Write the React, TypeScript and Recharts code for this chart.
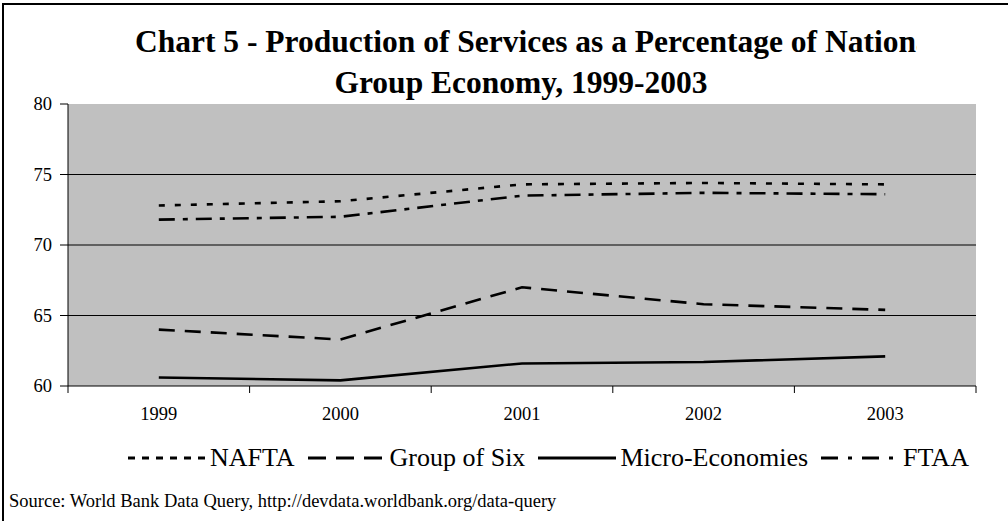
import React from "react"
import { LineChart, Line, XAxis, YAxis, CartesianGrid, Legend } from "recharts"

// years on the category axis
const years = ["1999", "2000", "2001", "2002", "2003"]

// services share of group GDP, %
const nafta = [72.8, 73.1, 74.3, 74.4, 74.3]
const groupOfSix = [64.0, 63.3, 67.0, 65.8, 65.4]
const microEconomies = [60.6, 60.4, 61.6, 61.7, 62.1]
const ftaa = [71.8, 72.0, 73.5, 73.7, 73.6]

const yTicks = [60, 65, 70, 75, 80]
const gridValues = [65, 70, 75]

const seriesNames = ["NAFTA", "Group of Six", "Micro-Economies", "FTAA"]

const data = years.map((year, i) => ({
  year,
  nafta: nafta[i],
  groupOfSix: groupOfSix[i],
  microEconomies: microEconomies[i],
  ftaa: ftaa[i],
}))

const W = 1008
const H = 521
const PLOT_LEFT = 68
const PLOT_RIGHT = 976
const PLOT_TOP = 104
const PLOT_BOTTOM = 386
const Y_AXIS_W = 60
const X_AXIS_H = 30
const BAND = (PLOT_RIGHT - PLOT_LEFT) / years.length

const SERIF = "'Liberation Serif', 'Times New Roman', serif"

// line patterns: plot dash / legend dash (legend swatches are drawn a bit larger)
const lineStyles: Record<string, { dash?: string; legendDash?: string }> = {
  NAFTA: { dash: "6 10", legendDash: "7 7" },
  "Group of Six": { dash: "16 10", legendDash: "18 10" },
  "Micro-Economies": {},
  FTAA: { dash: "16 8 5 8", legendDash: "17 10 4 10" },
}

function YearTick(props: any) {
  const { x, payload, index } = props
  const left = x - BAND / 2
  const right = x + BAND / 2
  return (
    <g>
      <line x1={left} y1={PLOT_BOTTOM} x2={left} y2={PLOT_BOTTOM + 7} stroke="#000" />
      {index === years.length - 1 && (
        <line x1={right} y1={PLOT_BOTTOM} x2={right} y2={PLOT_BOTTOM + 7} stroke="#000" />
      )}
      <text x={x} y={PLOT_BOTTOM + 34} textAnchor="middle" style={{ fontFamily: SERIF, fontSize: 18.5 }} fill="#000">
        {payload.value}
      </text>
    </g>
  )
}

function ValueTick(props: any) {
  const { x, y, payload } = props
  return (
    <text x={x} y={y} dy={6} textAnchor="end" style={{ fontFamily: SERIF, fontSize: 18.5 }} fill="#000">
      {payload.value}
    </text>
  )
}

function LegendRow() {
  return (
    <div style={{ display: "flex", alignItems: "center", paddingLeft: 128, height: 34, fontFamily: SERIF }}>
      {seriesNames.map((name) => {
        const st = lineStyles[name]
        return (
          <div key={name} style={{ display: "flex", alignItems: "center", marginRight: 13 }}>
            <svg width={78} height={10} style={{ marginRight: 4 }}>
              <line x1={0} y1={5} x2={78} y2={5} stroke="#000" strokeWidth={3} strokeDasharray={st.legendDash} />
            </svg>
            <span style={{ fontFamily: SERIF, fontSize: 26, color: "#000", lineHeight: "30px" }}>{name}</span>
          </div>
        )
      })}
    </div>
  )
}

export default function App() {
  return (
    <div style={{ position: "absolute", left: 0, top: 0, width: W, height: H, background: "#fff", overflow: "hidden" }}>
      {/* frame */}
      <div style={{ position: "absolute", left: 2, top: 3, width: W, height: H, borderLeft: "2px solid #000", borderTop: "2px solid #000" }} />

      <svg width={W} height={110} style={{ position: "absolute", left: 0, top: 0 }}>
        <defs>
          <clipPath id="titleClip">
            <rect x={0} y={0} width={917} height={110} />
          </clipPath>
        </defs>
        <g clipPath="url(#titleClip)" style={{ fontFamily: SERIF, fontWeight: "bold", fontSize: 31.5 }} fill="#000">
          <text x={135} y={52}>Chart 5 - Production of Services as a Percentage of National</text>
          <text x={521} y={93} textAnchor="middle">Group Economy, 1999-2003</text>
        </g>
      </svg>

      <div style={{ position: "absolute", left: 0, top: 0 }}>
        <LineChart
          width={W}
          height={H}
          data={data}
          margin={{
            top: PLOT_TOP,
            right: W - PLOT_RIGHT,
            bottom: H - PLOT_BOTTOM - X_AXIS_H,
            left: PLOT_LEFT - Y_AXIS_W,
          }}
        >
          <CartesianGrid vertical={false} horizontalValues={gridValues} stroke="#000" fill="#c0c0c0" fillOpacity={1} />
          <XAxis
            dataKey="year"
            height={X_AXIS_H}
            padding={{ left: BAND / 2, right: BAND / 2 }}
            axisLine={{ stroke: "#000" }}
            tickLine={false}
            tickSize={7}
            tickMargin={0}
            interval={0}
            tick={<YearTick />}
          />
          <XAxis
            xAxisId="top"
            orientation="top"
            dataKey="year"
            height={0}
            tick={false}
            tickLine={false}
            axisLine={{ stroke: "#808080", strokeWidth: 2 }}
          />
          <YAxis
            width={Y_AXIS_W}
            domain={[60, 80]}
            ticks={yTicks}
            interval={0}
            axisLine={{ stroke: "#000" }}
            tickLine={{ stroke: "#000" }}
            tickSize={8}
            tickMargin={8}
            tick={<ValueTick />}
          />
          <YAxis
            yAxisId="right"
            orientation="right"
            width={0}
            domain={[60, 80]}
            tick={false}
            tickLine={false}
            axisLine={{ stroke: "#808080", strokeWidth: 2 }}
          />
          <Line type="linear" dataKey="nafta" name="NAFTA" stroke="#000" strokeWidth={2.6} strokeDasharray={lineStyles["NAFTA"].dash} dot={false} activeDot={false} isAnimationActive={false} />
          <Line type="linear" dataKey="groupOfSix" name="Group of Six" stroke="#000" strokeWidth={2.6} strokeDasharray={lineStyles["Group of Six"].dash} dot={false} activeDot={false} isAnimationActive={false} />
          <Line type="linear" dataKey="microEconomies" name="Micro-Economies" stroke="#000" strokeWidth={2.6} dot={false} activeDot={false} isAnimationActive={false} />
          <Line type="linear" dataKey="ftaa" name="FTAA" stroke="#000" strokeWidth={2.6} strokeDasharray={lineStyles["FTAA"].dash} dot={false} activeDot={false} isAnimationActive={false} />
          <Legend
            layout="horizontal"
            verticalAlign="middle"
            align="center"
            content={<LegendRow />}
            wrapperStyle={{ left: 0, top: 441, width: W }}
          />
        </LineChart>
      </div>

      <svg width={W} height={30} style={{ position: "absolute", left: 0, top: 490 }}>
        <text x={9} y={17} style={{ fontFamily: SERIF, fontSize: 18.5 }} fill="#000">
          Source: World Bank Data Query, http://devdata.worldbank.org/data-query
        </text>
      </svg>
    </div>
  )
}
